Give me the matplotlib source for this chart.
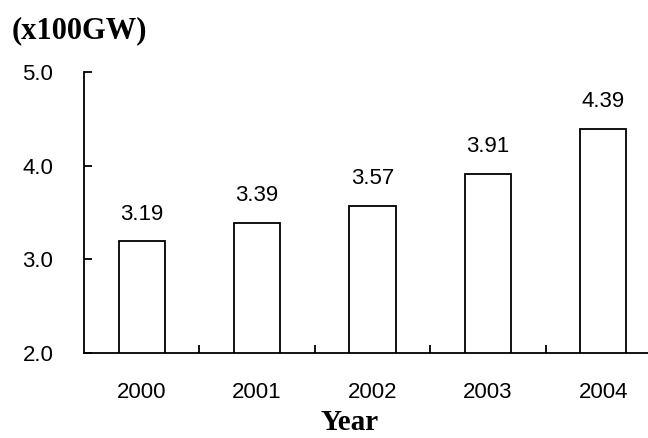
import matplotlib
matplotlib.use("Agg")
import matplotlib.pyplot as plt

# data
years = ["2000", "2001", "2002", "2003", "2004"]
capacity = [3.19, 3.39, 3.57, 3.91, 4.39]
y_ticks = [2.0, 3.0, 4.0, 5.0]

tick_font = ["Liberation Sans", "DejaVu Sans"]
title_font = ["Liberation Serif", "DejaVu Serif"]

fig = plt.figure(figsize=(6.48, 4.38), dpi=100)
ax = fig.add_axes([0.1296, 0.194, 0.8904, 0.642])

x = list(range(len(years)))
ax.bar(x, capacity, width=0.4, color="white", edgecolor="black", linewidth=1.3)

for xi, v in zip(x, capacity):
    ax.annotate(f"{v:.2f}", (xi, v), xytext=(0, 12), textcoords="offset points",
                ha="center", va="bottom", fontsize=16, family=tick_font)

ax.set_xlim(-0.5, 4.5)
ax.set_ylim(2.0, 5.0)

ax.set_yticks(y_ticks)
ax.set_yticklabels([f"{t:.1f}" for t in y_ticks], fontsize=16, family=tick_font)
ax.tick_params(axis="y", direction="in", length=6, width=1.3, pad=22)

# category ticks sit between the bars
ax.set_xticks([0.5, 1.5, 2.5, 3.5])
ax.set_xticklabels([])
ax.set_xticks(x, minor=True)
ax.set_xticklabels(years, minor=True, fontsize=16, family=tick_font)
ax.tick_params(axis="x", which="major", direction="in", length=6, width=1.3)
ax.tick_params(axis="x", which="minor", length=0, pad=21)

for s in ["top", "right"]:
    ax.spines[s].set_visible(False)
for s in ["left", "bottom"]:
    ax.spines[s].set_linewidth(1.3)

fig.text(0.018, 0.93, "(x100GW)", fontsize=22, fontweight="bold", family=title_font,
         ha="left", va="center")
fig.text(0.539, 0.036, "Year", fontsize=21, fontweight="bold", family=title_font,
         ha="center", va="center")

fig.savefig("out.png", dpi=100)
